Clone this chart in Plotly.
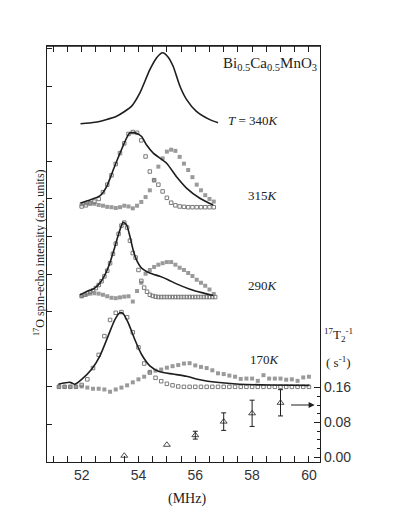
import plotly.graph_objects as go

# spectra: relative intensity above each baseline (left axis units)
BASE_340 = 9.0
BASE_315 = 6.78
BASE_290 = 4.39
BASE_170 = 2.0

F_340_LINE = [51.96, 52.47, 53.23, 53.76, 54.05, 54.40, 54.64, 54.85, 55.04, 55.22, 55.46, 55.69, 56.04, 56.51, 56.80]
I_340_LINE = [0.00, 0.04, 0.20, 0.47, 0.82, 1.44, 1.76, 1.89, 1.78, 1.53, 1.00, 0.65, 0.33, 0.11, 0.03]

F_315_LINE = [51.96, 52.29, 52.64, 52.88, 53.11, 53.35, 53.58, 53.70, 53.93, 54.11, 54.28, 54.52, 54.99, 55.34, 55.69, 56.16, 56.63]
I_315_LINE = [0.11, 0.19, 0.30, 0.55, 0.99, 1.44, 1.84, 1.98, 1.97, 1.88, 1.66, 1.44, 1.17, 0.81, 0.51, 0.24, 0.06]
F_315 = [52.00, 52.15, 52.30, 52.45, 52.60, 52.75, 52.90, 53.05, 53.20, 53.35, 53.50, 53.65, 53.80, 53.95, 54.10, 54.25,
         54.40, 54.55, 54.70, 54.85, 55.00, 55.15, 55.30, 55.45, 55.60, 55.75, 55.90, 56.05, 56.20, 56.35, 56.50, 56.65]
I_315_OPEN = [0.02, 0.05, 0.10, 0.15, 0.22, 0.40, 0.60, 0.85, 1.15, 1.44, 1.70, 1.95, 2.00, 1.98, 1.78, 1.35,
              0.95, 0.72, 0.60, 0.42, 0.25, 0.12, 0.05, 0.02, 0.01, 0.0, 0.0, 0.0, 0.0, 0.0, 0.0, 0.0]
I_315_GREY = [0.08, 0.10, 0.11, 0.09, 0.06, 0.04, 0.01, 0.0, -0.02, 0.0, 0.04, 0.02, -0.03, 0.04, 0.14, 0.27,
              0.45, 0.72, 1.08, 1.30, 1.48, 1.53, 1.50, 1.34, 1.16, 0.99, 0.80, 0.60, 0.45, 0.32, 0.22, 0.15]

F_290_LINE = [51.94, 52.18, 52.41, 52.64, 52.82, 52.99, 53.17, 53.29, 53.41, 53.46, 53.58, 53.70, 53.81, 53.93, 54.11,
              54.40, 54.75, 55.04, 55.34, 55.81, 56.27, 56.63]
I_290_LINE = [0.06, 0.15, 0.21, 0.37, 0.59, 0.90, 1.34, 1.65, 1.92, 1.99, 1.92, 1.61, 1.26, 0.99, 0.77,
              0.64, 0.55, 0.46, 0.35, 0.21, 0.11, 0.04]
F_290_OPEN = [52.0, 52.1, 52.2, 52.3, 52.4, 52.5, 52.6, 52.7, 52.8, 52.9, 53.0, 53.1, 53.2, 53.3, 53.4, 53.5,
              53.6, 53.7, 53.8, 53.9, 54.0, 54.1, 54.2, 54.3, 54.4, 54.5, 54.6, 54.7, 54.8, 54.9, 55.0, 55.1,
              55.2, 55.3, 55.4, 55.5, 55.6, 55.7, 55.8, 55.9, 56.0, 56.1, 56.2, 56.3, 56.4, 56.5, 56.6, 56.7]
I_290_OPEN = [0.03, 0.06, 0.10, 0.14, 0.18, 0.24, 0.32, 0.42, 0.55, 0.70, 0.90, 1.15, 1.42, 1.68, 1.90, 1.98,
              1.85, 1.50, 1.17, 1.05, 0.72, 0.43, 0.25, 0.14, 0.06, 0.03, 0.01, 0.0, 0.0, 0.0, 0.0, 0.0,
              0.0, 0.0, 0.0, 0.0, 0.0, 0.0, 0.0, 0.0, 0.0, 0.0, 0.0, 0.0, 0.0, 0.0, 0.0, 0.0]
I_290_GREY = [0.02, 0.06, 0.09, 0.10, 0.09, 0.06, 0.02, -0.02, -0.03, -0.01, 0.01, 0.02, -0.12, 0.16, 0.38, 0.62,
              0.72, 0.80, 0.86, 0.90, 0.93, 0.93, 0.86, 0.78, 0.72, 0.64, 0.56, 0.46, 0.38, 0.30, 0.20, 0.08]

F_170_LINE = [51.18, 51.59, 51.76, 52.00, 52.35, 52.64, 52.93, 53.17, 53.35, 53.46, 53.64, 53.87, 54.11, 54.40,
              54.75, 55.22, 55.69, 56.16, 56.75, 57.56, 58.62, 60.02]
I_170_LINE = [0.07, 0.12, 0.07, 0.20, 0.47, 0.82, 1.35, 1.79, 1.97, 1.95, 1.70, 1.26, 0.86, 0.56,
              0.40, 0.34, 0.28, 0.19, 0.12, 0.07, 0.05, 0.04]
F_170 = [51.2, 51.4, 51.6, 51.8, 52.0, 52.2, 52.4, 52.6, 52.8, 53.0, 53.2, 53.4, 53.6, 53.8, 54.0, 54.2,
         54.4, 54.6, 54.8, 55.0, 55.2, 55.4, 55.6, 55.8, 56.0, 56.2, 56.4, 56.6, 56.8, 57.0, 57.2, 57.4,
         57.6, 57.8, 58.0, 58.2, 58.4, 58.6, 58.8, 59.0, 59.2, 59.4, 59.6, 59.8, 60.0]
I_170_OPEN = [0.0, 0.0, 0.0, 0.0, 0.05, 0.20, 0.50, 0.85, 1.35, 1.78, 1.97, 1.99, 1.85, 1.45, 1.05, 0.62,
              0.38, 0.24, 0.15, 0.08, 0.04, 0.01, 0.0, 0.0, 0.0, 0.0, 0.0, 0.0, 0.0, 0.0, 0.0, 0.0,
              0.0, 0.0, 0.0, 0.0, 0.0, 0.0, 0.0, 0.0, 0.0, 0.0, 0.0, 0.0, 0.0]
I_170_GREY = [0.0, 0.0, 0.0, 0.0, 0.01, -0.02, -0.05, -0.05, -0.07, -0.13, -0.07, -0.02, 0.04, 0.12, 0.20, 0.27,
              0.40, 0.43, 0.46, 0.51, 0.55, 0.58, 0.62, 0.63, 0.57, 0.53, 0.50, 0.44, 0.36, 0.34, 0.30, 0.27,
              0.21, 0.22, 0.22, 0.16, 0.31, 0.22, 0.22, 0.22, 0.19, 0.20, 0.16, 0.25, 0.27]

# 17O T2^-1 (s^-1), right axis; the first two points have no error bar
F_T2 = [53.5, 55.0, 56.0, 57.0, 58.0, 59.0]
T2_INV = [0.004, 0.029, 0.051, 0.082, 0.101, 0.125]
T2_ERR = [0.0, 0.0, 0.009, 0.020, 0.030, 0.030]

X_TICKS = [52, 54, 56, 58, 60]
Y2_TICKS = [0.0, 0.08, 0.16]
Y2_TICKTEXT = ["0.00", "0.08", "0.16"]
Y2_MINOR = [0.02, 0.04, 0.06, 0.10, 0.12, 0.14]

INK = "#1e1e1e"
GREY = "#9a9a9a"
OPEN = "#7a7a7a"
SERIF = "Liberation Serif, Times New Roman, serif"
SANS = "Liberation Sans, Arial, sans-serif"
X_RANGE = [50.78, 60.39]


def shifted(values, base):
    return [base + v for v in values]


fig = go.Figure()


def line(xs, ys, base):
    fig.add_trace(go.Scatter(x=xs, y=shifted(ys, base), mode="lines",
                             line=dict(color=INK, width=1.6, shape="spline", smoothing=0.6),
                             showlegend=False, hoverinfo="skip"))


def grey(xs, ys, base):
    fig.add_trace(go.Scatter(x=xs, y=shifted(ys, base), mode="markers",
                             marker=dict(symbol="square", size=4, color=GREY, line=dict(width=0)),
                             showlegend=False, hoverinfo="skip"))


def open_sq(xs, ys, base):
    fig.add_trace(go.Scatter(x=xs, y=shifted(ys, base), mode="markers",
                             marker=dict(symbol="square-open", size=3.5, color=OPEN, line=dict(width=1, color=OPEN)),
                             showlegend=False, hoverinfo="skip"))


line(F_340_LINE, I_340_LINE, BASE_340)

grey(F_315, I_315_GREY, BASE_315)
open_sq(F_315, I_315_OPEN, BASE_315)
line(F_315_LINE, I_315_LINE, BASE_315)

grey(F_315, I_290_GREY, BASE_290)
open_sq(F_290_OPEN, I_290_OPEN, BASE_290)
line(F_290_LINE, I_290_LINE, BASE_290)

grey(F_170, I_170_GREY, BASE_170)
open_sq(F_170, I_170_OPEN, BASE_170)
line(F_170_LINE, I_170_LINE, BASE_170)

triangle = dict(symbol="triangle-up-open", size=6, color=INK, line=dict(width=0.8, color=INK))
fig.add_trace(go.Scatter(x=F_T2[:2], y=T2_INV[:2], yaxis="y2", mode="markers", marker=triangle,
                         showlegend=False, hoverinfo="skip"))
fig.add_trace(go.Scatter(x=F_T2[2:], y=T2_INV[2:], yaxis="y2", mode="markers", marker=triangle,
                         error_y=dict(type="data", array=T2_ERR[2:], color=INK, thickness=1, width=2.5),
                         showlegend=False, hoverinfo="skip"))

fig.add_annotation(x=60.2, y=0.12, xref="x", yref="y2", ax=59.32, ay=0.12, axref="x", ayref="y2",
                   text="", showarrow=True, arrowhead=2, arrowsize=1, arrowwidth=1.2, arrowcolor=INK)

texts = [
    ("Bi<sub>0.5</sub>Ca<sub>0.5</sub>MnO<sub>3</sub>", 0.636, 0.957, "left", 15),
    ("<i>T</i> = 340<i>K</i>", 0.654, 0.822, "left", 13),
    ("315<i>K</i>", 0.790, 0.640, "center", 13),
    ("290<i>K</i>", 0.790, 0.424, "center", 13),
    ("170<i>K</i>", 0.799, 0.246, "center", 13),
    ("<sup>17</sup>T<sub>2</sub><sup>-1</sup>", 1.066, 0.306, "center", 13),
    ("( s<sup>-1</sup>)", 1.068, 0.241, "center", 13),
    ("(MHz)", 0.511, -0.09, "center", 14),
]
for text, x, y, anchor, size in texts:
    fig.add_annotation(text=text, x=x, y=y, xref="paper", yref="paper", xanchor=anchor, yanchor="middle",
                       showarrow=False, font=dict(family=SERIF, size=size, color="#222"))

fig.add_annotation(text="<sup>17</sup>O spin-echo intensity (arb. units)", x=-0.028, y=0.503,
                   xref="paper", yref="paper", textangle=-90, showarrow=False, xanchor="center", yanchor="middle",
                   font=dict(family=SERIF, size=12, color="#222"))

# top frame line
fig.add_shape(type="line", xref="paper", yref="paper", x0=0, x1=1, y0=1, y1=1,
              line=dict(color=INK, width=1.4), layer="above")

# the page body adds an 8px offset, so the figure is 8px smaller than the window
fig.update_layout(
    width=387, height=522,
    margin=dict(l=39, r=74.5, t=38, b=67.5),
    paper_bgcolor="white", plot_bgcolor="white",
    xaxis=dict(range=X_RANGE, tickvals=X_TICKS, ticks="inside", ticklen=6, tickwidth=1, tickcolor=INK,
               showline=True, linecolor=INK, linewidth=1.2, showgrid=False, zeroline=False, mirror="allticks",
               tickfont=dict(family=SANS, size=14, color="#333"),
               minor=dict(dtick=0.5, tick0=52, ticks="inside", ticklen=3, tickcolor=INK, showgrid=False)),
    yaxis=dict(range=[0, 11.07], tickvals=list(range(0, 12)), ticks="inside", ticklen=5, tickcolor=INK,
               showticklabels=False, showline=True, linecolor=INK, linewidth=1.2, showgrid=False, zeroline=False),
    yaxis2=dict(range=[-0.0103, 0.9406], overlaying="y", side="right", tickvals=Y2_TICKS, ticktext=Y2_TICKTEXT,
                ticks="inside", ticklen=6, tickcolor=INK, showline=True, linecolor=INK, linewidth=1.2,
                showgrid=False, zeroline=False, tickfont=dict(family=SANS, size=14, color="#333"),
                minor=dict(tickmode="array", tickvals=Y2_MINOR, ticks="inside", ticklen=3, tickcolor=INK,
                           showgrid=False)),
)

fig.write_html("out.html")
